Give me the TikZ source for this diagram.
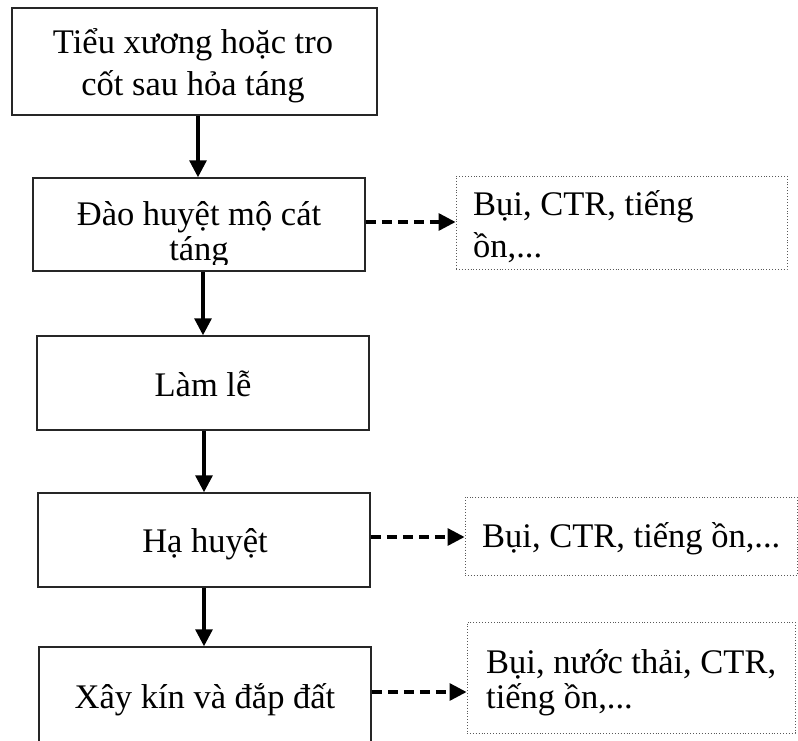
\documentclass[tikz,border=0pt]{standalone}
\usepackage{fontspec}
\setmainfont{Liberation Serif}
\usetikzlibrary{arrows.meta}
\begin{document}
\begin{tikzpicture}[x=1pt,y=-1pt,
  box/.style={draw=black!85, line width=1.5pt, rectangle, inner sep=0pt},
  dbox/.style={draw=black!65, line width=0.9pt, dotted, rectangle, inner sep=0pt},
  txt/.style={inner sep=0pt, font=\fontsize{34.5}{42}\selectfont},
  arr/.style={line width=3.2pt, -{Triangle[length=17pt,width=17pt]}},
  darr/.style={line width=3.2pt, dash pattern=on 10pt off 6pt, -{Triangle[length=17pt,width=17pt]}}
]
\clip (0,0) rectangle (798,740);
\fill[white] (0,0) rectangle (798,740);

% main boxes
\node[box, minimum width=365pt, minimum height=107pt] (b1) at (194.5,61.5) {};
\node[box, minimum width=332pt, minimum height=93pt] (b2) at (199,224.5) {};
\node[box, minimum width=332pt, minimum height=94pt] (b3) at (203,383) {};
\node[box, minimum width=332pt, minimum height=94pt] (b4) at (204,540) {};
\node[box, minimum width=332pt, minimum height=110pt] (b5) at (205,702) {};

% side boxes
\node[dbox, minimum width=331pt, minimum height=93pt] (d1) at (621.5,222.5) {};
\node[dbox, minimum width=332pt, minimum height=78pt] (d2) at (631,536) {};
\node[dbox, minimum width=328pt, minimum height=111pt] (d3) at (631,677.5) {};

% texts (anchor=base is the baseline of the last line)
\node[txt, align=center, anchor=base] (t1) at (193,95) {Tiểu xương hoặc tro\\cốt sau hỏa táng};
\begin{scope}
\clip (33,178) rectangle (365,264);
\node[txt, align=center, anchor=base, font=\fontsize{34.5}{35}\selectfont] (t2) at (199,260) {Đào huyệt mộ cát\\táng};
\end{scope}
\node[txt, anchor=base] (t3) at (203,396) {Làm lễ};
\node[txt, anchor=base] (t4) at (205,552) {Hạ huyệt};
\node[txt, anchor=base] (t5) at (205,708) {Xây kín và đắp đất};

\node[txt, align=left, anchor=base west] (s1) at (473,257) {Bụi, CTR, tiếng\\ồn,...};
\node[txt, anchor=base west] (s2) at (482,547) {Bụi, CTR, tiếng ồn,...};
\node[txt, align=left, anchor=base west, font=\fontsize{34.5}{35}\selectfont] (s3) at (486,708) {Bụi, nước thải, CTR,\\tiếng ồn,...};

% arrows
\draw[arr] (b1.south -| 198,0) -- (b2.north -| 198,0);
\draw[arr] (b2.south -| 203,0) -- (b3.north -| 203,0);
\draw[arr] (b3.south -| 204,0) -- (b4.north -| 204,0);
\draw[arr] (b4.south -| 204,0) -- (b5.north -| 204,0);

\draw[darr] (b2.east |- 0,222) -- (d1.west |- 0,222);
\draw[darr] (b4.east |- 0,537) -- (d2.west |- 0,537);
\draw[darr] (b5.east |- 0,692) -- (d3.west |- 0,692);
\end{tikzpicture}
\end{document}
